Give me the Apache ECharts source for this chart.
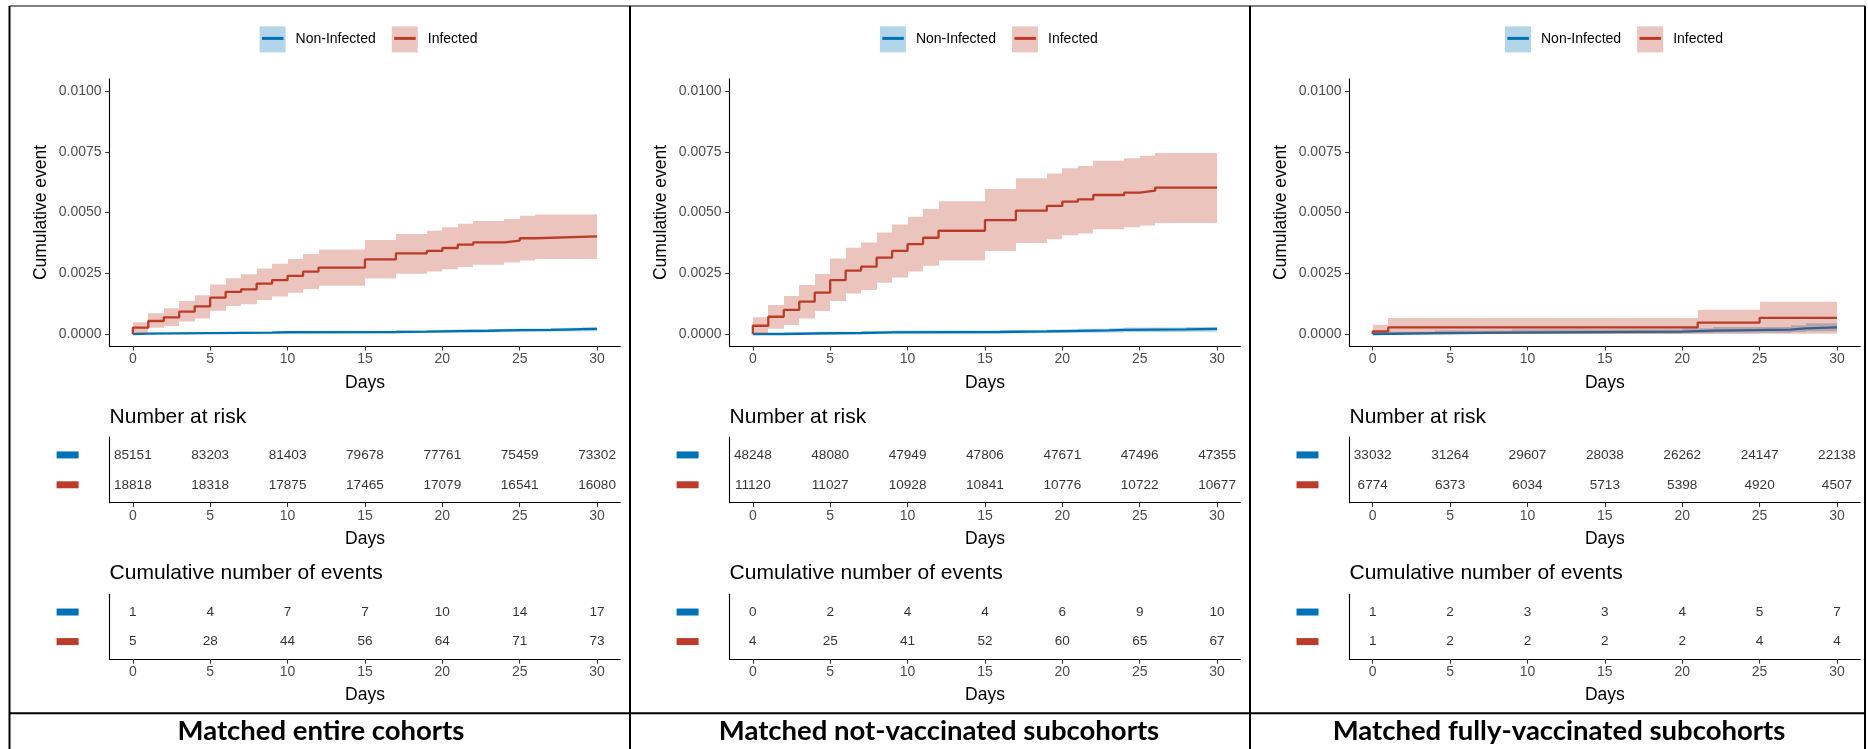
<!DOCTYPE html>
<html><head><meta charset="utf-8">
<script src="https://cdn.jsdelivr.net/npm/echarts@6/dist/echarts.min.js"></script>
<style>html,body{margin:0;padding:0;background:#fff}#c{width:1868px;height:749px}</style>
</head><body><div id="c"></div><script>
// ---------- tick labels / categories ----------
const dayTicks = [0, 5, 10, 15, 20, 25, 30];
const yTicks = [0, 0.0025, 0.005, 0.0075, 0.01];
const groups = ['Non-Infected', 'Infected'];
const panelTitles = ['Matched entire cohorts', 'Matched not-vaccinated subcohorts', 'Matched fully-vaccinated subcohorts'];

// ---------- Panel 1: matched entire cohorts ----------
const entRedT = [0,0,1,2,3,4,5,6,7,8,9,10,11,12,15,17,19,20,21,22,24,25,26,30];
const entRedV = [0,0.00026,0.000535,0.000686,0.000919,0.00114,0.0015,0.00173,0.00184,0.00207,0.00222,0.00239,0.00257,0.00273,0.00307,0.00332,0.00342,0.00354,0.00368,0.00377,0.00384,0.00394,0.00402,0.00402];
const entRedBandT = [0,1,2,3,4,5,6,7,8,9,10,11,12,15,17,19,20,21,22,24,25,26,30];
const entRedLo = [0,0.00026,0.00033,0.00051,0.00064,0.00096,0.00115,0.00122,0.0014,0.00154,0.0017,0.00185,0.00199,0.00228,0.00248,0.00257,0.00266,0.00276,0.00285,0.00294,0.00302,0.00309,0.00309];
const entRedHi = [0.00048,0.00085,0.00106,0.00136,0.00159,0.00204,0.00229,0.00246,0.0027,0.00289,0.00309,0.00329,0.00348,0.00387,0.00412,0.00425,0.00439,0.00454,0.00465,0.00473,0.00487,0.00492,0.00492];
const entBlueT = [0,0,1,3,5,7,9,10,17,19,20,21,23,24,25,27,28,29,30];
const entBlueV = [0,0.000012,0.000024,0.000035,0.000047,0.000059,0.000071,0.000083,0.000096,0.000108,0.00012,0.000133,0.000146,0.000158,0.000171,0.000184,0.000197,0.00021,0.00021];
const entBlueBandT = [0,1,3,5,7,9,10,17,19,20,21,23,24,25,27,28,29,30];
const entBlueLo = [0,0,0.000005,0.00001,0.000017,0.000024,0.000032,0.00004,0.000048,0.000056,0.000064,0.000072,0.00008,0.000089,0.000098,0.000107,0.000116,0.000116];
const entBlueHi = [0.000035,0.00005,0.000065,0.00008,0.000095,0.00011,0.000125,0.00014,0.000155,0.00017,0.000185,0.0002,0.000215,0.00023,0.000245,0.00026,0.000275,0.000275];
const entRiskBlue = [85151,83203,81403,79678,77761,75459,73302];
const entRiskRed = [18818,18318,17875,17465,17079,16541,16080];
const entEventsBlue = [1,4,7,7,10,14,17];
const entEventsRed = [5,28,44,56,64,71,73];

// ---------- Panel 2: matched not-vaccinated subcohorts ----------
const novRedT = [0,0,1,2,3,4,5,6,7,8,9,10,11,12,15,17,19,20,21,22,24,25,26,30];
const novRedV = [0,0.00034,0.00071,0.00099,0.00133,0.0017,0.00222,0.00261,0.00277,0.00314,0.00342,0.0037,0.00396,0.00425,0.00469,0.00508,0.00527,0.00545,0.00554,0.00572,0.00582,0.0059,0.00602,0.00602];
const novRedBandT = [0,1,2,3,4,5,6,7,8,9,10,11,12,15,17,19,20,21,22,24,25,26,30];
const novRedLo = [0,0.00022,0.00037,0.00064,0.00095,0.00136,0.00167,0.00181,0.00211,0.00233,0.00257,0.00281,0.00302,0.00342,0.00374,0.0039,0.00406,0.00414,0.00431,0.00439,0.00447,0.00457,0.00457];
const novRedHi = [0.00069,0.00119,0.00156,0.00202,0.00247,0.00311,0.00355,0.00377,0.00418,0.00451,0.00483,0.00514,0.00546,0.00597,0.00641,0.00661,0.00682,0.00691,0.00713,0.00723,0.00734,0.00745,0.00745];
const novBlueT = [0,2,4,7,9,16,19,21,23,24,28,30];
const novBlueV = [0,0.000021,0.000042,0.000063,0.000083,0.000104,0.000125,0.000146,0.000167,0.000188,0.000209,0.000209];
const novBlueBandT = [0,2,4,7,9,16,19,21,23,24,28,30];
const novBlueLo = [0,0,0.000005,0.000013,0.000022,0.000032,0.000043,0.000054,0.000066,0.000078,0.00009,0.00009];
const novBlueHi = [0.00002,0.00006,0.00009,0.000115,0.00014,0.000165,0.00019,0.000215,0.00024,0.000265,0.00029,0.00029];
const novRiskBlue = [48248,48080,47949,47806,47671,47496,47355];
const novRiskRed = [11120,11027,10928,10841,10776,10722,10677];
const novEventsBlue = [0,2,4,4,6,9,10];
const novEventsRed = [4,25,41,52,60,65,67];

// ---------- Panel 3: matched fully-vaccinated subcohorts ----------
const fulRedT = [0,0,1,21,25,30];
const fulRedV = [0,0.00011,0.00027,0.00047,0.00066,0.00066];
const fulRedBandT = [0,1,21,25,30];
const fulRedLo = [0,0,0,0.00001,0.00001];
const fulRedHi = [0.00038,0.00066,0.001,0.00133,0.00133];
const fulBlueT = [0,0,4,9,20,22,27,28,30];
const fulBlueV = [0,0.00003,0.00006,0.0001,0.00014,0.00018,0.00023,0.00027,0.00027];
const fulBlueBandT = [0,4,9,20,22,27,28,30];
const fulBlueLo = [0,0,0.00001,0.00003,0.00005,0.00008,0.00011,0.00011];
const fulBlueHi = [0.00009,0.00014,0.00019,0.00024,0.00029,0.00036,0.00044,0.00044];
const fulRiskBlue = [33032,31264,29607,28038,26262,24147,22138];
const fulRiskRed = [6774,6373,6034,5713,5398,4920,4507];
const fulEventsBlue = [1,2,3,3,4,5,7];
const fulEventsRed = [1,2,2,2,2,4,4];

// ---------- assembly ----------
const panels = [
  {redT:entRedT, redV:entRedV, redBandT:entRedBandT, redLo:entRedLo, redHi:entRedHi,
   blueT:entBlueT, blueV:entBlueV, blueBandT:entBlueBandT, blueLo:entBlueLo, blueHi:entBlueHi,
   risk:[entRiskBlue, entRiskRed], events:[entEventsBlue, entEventsRed]},
  {redT:novRedT, redV:novRedV, redBandT:novRedBandT, redLo:novRedLo, redHi:novRedHi,
   blueT:novBlueT, blueV:novBlueV, blueBandT:novBlueBandT, blueLo:novBlueLo, blueHi:novBlueHi,
   risk:[novRiskBlue, novRiskRed], events:[novEventsBlue, novEventsRed]},
  {redT:fulRedT, redV:fulRedV, redBandT:fulRedBandT, redLo:fulRedLo, redHi:fulRedHi,
   blueT:fulBlueT, blueV:fulBlueV, blueBandT:fulBlueBandT, blueLo:fulBlueLo, blueHi:fulBlueHi,
   risk:[fulRiskBlue, fulRiskRed], events:[fulEventsBlue, fulEventsRed]}
];

const BLUE = '#0072B5', RED = '#BC3C29';
const BLUE_BAND = 'rgba(0,114,181,0.3)', RED_BAND = 'rgba(188,60,41,0.3)';
const BLUE_FILL = '#B3D5E9', RED_FILL = '#EBC5BF';
const FONT = "'Liberation Sans', Arial, sans-serif";
const PX = [109.6, 729.6, 1349.5];
const PW = 510.7;
const LEG = [259.6, 879.9, 1505];
const TITLE_X = [321, 939, 1559];

function dayAxis(gi, gap) {
  return {
    gridIndex: gi, type: 'value', min: -1.5, max: 31.5,
    axisLine: {show: true, onZero: false, lineStyle: {color: '#000', width: 1.1}},
    axisTick: {show: true, length: 4.4, customValues: dayTicks, lineStyle: {color: '#333', width: 1.1}},
    axisLabel: {customValues: dayTicks, margin: 6, color: '#4D4D4D', fontSize: 14, fontFamily: FONT},
    splitLine: {show: false},
    name: 'Days', nameLocation: 'middle', nameGap: gap,
    nameTextStyle: {fontSize: 17.5, color: '#000', fontFamily: FONT}
  };
}
function mainY(gi) {
  return {
    gridIndex: gi, type: 'value', min: -0.0005, max: 0.0105,
    axisLine: {show: true, onZero: false, lineStyle: {color: '#000', width: 1.1}},
    axisTick: {show: true, length: 4.4, customValues: yTicks, lineStyle: {color: '#333', width: 1.1}},
    axisLabel: {customValues: yTicks, margin: 8, color: '#4D4D4D', fontSize: 14, fontFamily: FONT,
                formatter: v => Number(v).toFixed(4)},
    splitLine: {show: false},
    name: 'Cumulative event', nameLocation: 'middle', nameGap: 59,
    nameTextStyle: {fontSize: 17.5, color: '#000', fontFamily: FONT}
  };
}
function tableY(gi) {
  return {
    gridIndex: gi, type: 'value', min: 0.4, max: 2.6, inverse: true,
    axisLine: {show: true, onZero: false, lineStyle: {color: '#000', width: 1.1}},
    axisTick: {show: false},
    axisLabel: {customValues: [1, 2], margin: 31, formatter: v => (v === 1 ? '{b| }' : '{r| }'),
      rich: {
        b: {width: 22, height: 7, lineHeight: 7, fontSize: 1, backgroundColor: BLUE},
        r: {width: 22, height: 7, lineHeight: 7, fontSize: 1, backgroundColor: RED}
      }},
    splitLine: {show: false}
  };
}
function lineS(gi, name, t, v, color) {
  return {type: 'line', name, xAxisIndex: gi, yAxisIndex: gi, step: 'end', symbol: 'none',
    data: t.map((x, i) => [x, v[i]]), lineStyle: {color, width: 2.3}, itemStyle: {color}, z: 2, silent: true};
}
// confidence band: one rectangle per step interval [t_i, t_{i+1}] x [lo_i, hi_i]
function bandS(gi, name, t, lo, hi, fill) {
  const data = [];
  for (let i = 0; i < t.length - 1; i++) data.push([t[i], t[i + 1], lo[i], hi[i]]);
  return {
    type: 'custom', name, xAxisIndex: gi, yAxisIndex: gi, data, z: 3, silent: true, clip: true,
    encode: {x: [0, 1], y: [2, 3]},
    itemStyle: {color: fill},
    renderItem: (params, api) => {
      const a = api.coord([api.value(0), api.value(3)]);
      const b = api.coord([api.value(1), api.value(2)]);
      const x0 = Math.round(a[0]), x1 = Math.round(b[0]);
      return {type: 'rect', shape: {x: x0, y: a[1], width: x1 - x0, height: b[1] - a[1]}, style: {fill}};
    }
  };
}
function tableS(gi, rows) {
  const data = [];
  rows.forEach((vals, r) => vals.forEach((val, j) => data.push([dayTicks[j], r + 1, val])));
  return {type: 'scatter', xAxisIndex: gi, yAxisIndex: gi, symbolSize: 0, itemStyle: {color: 'transparent'},
    data, silent: true,
    label: {show: true, position: 'inside', formatter: p => String(p.value[2]), color: '#000', fontSize: 13.6, fontFamily: FONT}};
}

const grid = [], xAxis = [], yAxis = [], series = [], legend = [], graphic = [];
panels.forEach((p, i) => {
  const g0 = i * 3;
  grid.push({left: PX[i], top: 78.85, width: PW, height: 267.3, outerBoundsMode: 'none'});
  grid.push({left: PX[i], top: 437, width: PW, height: 65.7, outerBoundsMode: 'none'});
  grid.push({left: PX[i], top: 594.3, width: PW, height: 65, outerBoundsMode: 'none'});
  xAxis.push(dayAxis(g0, 28.5));
  xAxis.push(dayAxis(g0 + 1, 27.5));
  xAxis.push(dayAxis(g0 + 2, 27));
  yAxis.push(mainY(g0));
  yAxis.push(tableY(g0 + 1));
  yAxis.push(tableY(g0 + 2));
  series.push(lineS(g0, groups[0], p.blueT, p.blueV, BLUE));
  series.push(lineS(g0, groups[1], p.redT, p.redV, RED));
  series.push(bandS(g0, groups[0], p.blueBandT, p.blueLo, p.blueHi, BLUE_BAND));
  series.push(bandS(g0, groups[1], p.redBandT, p.redLo, p.redHi, RED_BAND));
  series.push(tableS(g0 + 1, p.risk));
  series.push(tableS(g0 + 2, p.events));

  legend.push({left: LEG[i], top: 26.4, padding: 0, icon: 'rect', itemWidth: 26, itemHeight: 26, itemGap: 16,
    selectedMode: false, itemStyle: {borderWidth: 0},
    data: [{name: groups[0], itemStyle: {color: BLUE_FILL, borderWidth: 0}}, {name: groups[1], itemStyle: {color: RED_FILL, borderWidth: 0}}],
    textStyle: {fontSize: 14, color: '#000', fontFamily: FONT, padding: [0, 0, 0, 5]}});
  legend.push({left: LEG[i] + 2.4, top: 31.4, padding: 0, icon: 'rect', itemWidth: 21.5, itemHeight: 3, itemGap: 20.5,
    selectedMode: false, itemStyle: {borderWidth: 0}, z: 5,
    data: [{name: groups[0], itemStyle: {color: BLUE, borderWidth: 0}}, {name: groups[1], itemStyle: {color: RED, borderWidth: 0}}],
    textStyle: {fontSize: 14, color: 'rgba(0,0,0,0)', fontFamily: FONT, padding: [0, 0, 0, 5]}});

  graphic.push({type: 'text', x: PX[i], y: 417, style: {text: 'Number at risk', font: '21px ' + FONT, fill: '#000', align: 'left', verticalAlign: 'middle'}});
  graphic.push({type: 'text', x: PX[i], y: 573.5, style: {text: 'Cumulative number of events', font: '21px ' + FONT, fill: '#000', align: 'left', verticalAlign: 'middle'}});
  graphic.push({type: 'text', x: TITLE_X[i], y: 731, style: {text: panelTitles[i], font: 'bold 27.5px Lato, sans-serif', fill: '#000', align: 'center', verticalAlign: 'middle'}});
});

// frame lines
const frame = [
  [9.5, 6, 1865, 6, 1.2],
  [9.5, 6, 9.5, 749, 2],
  [630, 6, 630, 749, 2],
  [1250, 6, 1250, 749, 2],
  [1865, 6, 1865, 749, 2],
  [9.5, 713.3, 1865, 713.3, 2]
];
frame.forEach(f => graphic.push({type: 'line', silent: true, shape: {x1: f[0], y1: f[1], x2: f[2], y2: f[3]}, style: {stroke: '#000', lineWidth: f[4]}}));

const chart = echarts.init(document.getElementById('c'), null, {renderer: 'canvas'});
chart.setOption({
  animation: false,
  backgroundColor: '#fff',
  textStyle: {fontFamily: FONT},
  grid, xAxis, yAxis, series, legend, graphic
});
</script></body></html>
